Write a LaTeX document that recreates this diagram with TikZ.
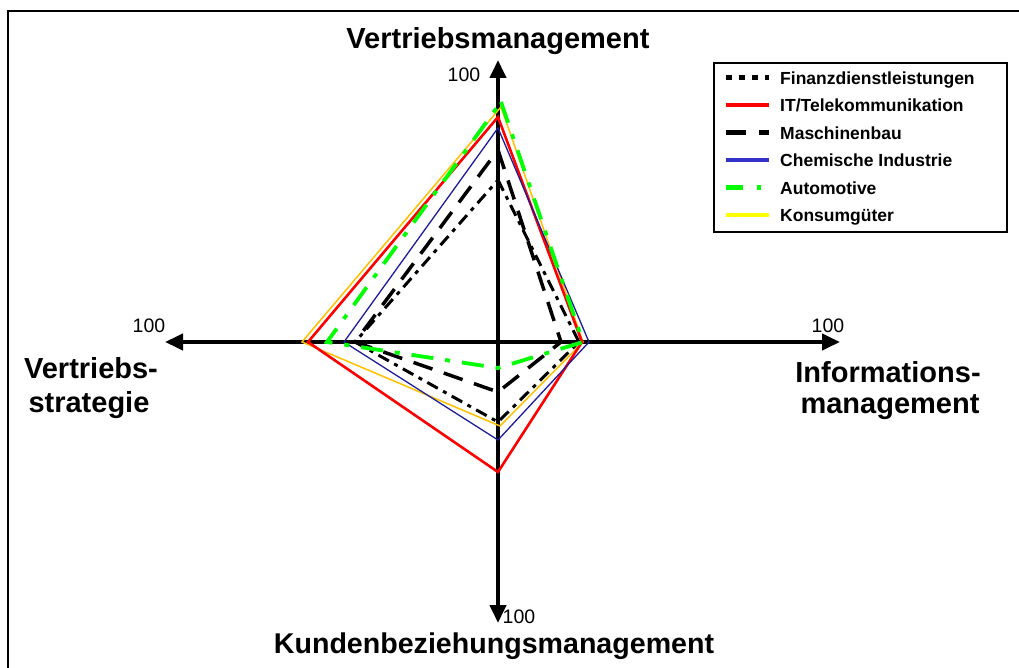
\documentclass[tikz,border=0pt]{standalone}
\usepackage{fontspec}
\setmainfont{Liberation Sans}
\usetikzlibrary{arrows.meta}

\definecolor{chemline}{HTML}{1C1C99}
\definecolor{chemkey}{HTML}{3333CC}
\definecolor{konsline}{HTML}{FFC000}
\definecolor{konskey}{HTML}{FFFF00}
\definecolor{autogreen}{HTML}{00FF00}

\begin{document}
\begin{tikzpicture}[x=1pt,y=-1pt,
  axisline/.style={line width=4pt,
    {Triangle[length=18pt,width=16pt]}-{Triangle[length=18pt,width=16pt]}},
  titletext/.style={font=\fontsize{29}{33}\selectfont\bfseries, inner sep=0pt, anchor=base},
  scaletext/.style={font=\fontsize{19.5}{22}\selectfont, inner sep=0pt, anchor=base},
  keytext/.style={font=\fontsize{17.5}{20}\selectfont\bfseries, inner sep=0pt, anchor=base west},
  finline/.style={black, line width=3pt, dash pattern=on 12pt off 6pt on 4pt off 6pt},
  finkey/.style={black, line width=4.5pt, dash pattern=on 6pt off 7pt},
  itline/.style={red, line width=2.6pt, line join=miter},
  itkey/.style={red, line width=4pt},
  mbline/.style={black, line width=3.5pt, dash pattern=on 20pt off 12pt},
  mbkey/.style={black, line width=4.5pt, dash pattern=on 20pt off 13pt},
  chemseries/.style={chemline, line width=1.3pt},
  chemkeyline/.style={chemkey, line width=4pt},
  autoline/.style={autogreen, line width=3.8pt, dash pattern=on 22pt off 12pt on 5pt off 12pt},
  autokey/.style={autogreen, line width=4.5pt, dash pattern=on 17pt off 14pt on 4pt off 14pt},
  konsseries/.style={konsline, line width=1.5pt},
  konskeyline/.style={konskey, line width=4.5pt},
]
\useasboundingbox (0,0) rectangle (1019,668);

% outer frame
\draw[line width=2pt] (8,668) -- (8,11) -- (1019,11);

% axes
\coordinate (c) at (498,342);
\coordinate (tipT) at (498,60);
\coordinate (tipB) at (498,623);
\coordinate (tipL) at (165,342);
\coordinate (tipR) at (840,342);
\draw[axisline] (tipL) -- (tipR);
\draw[axisline] (tipT) -- (tipB);

% axis titles
\node[titletext] (tTop) at (498,49) {Vertriebsmanagement};
\node[titletext] (tLeftA) at (91,378) {Vertriebs-};
\node[titletext] (tLeftB) at (89,412) {strategie};
\node[titletext] (tRightA) at (888,382) {Informations-};
\node[titletext] (tRightB) at (890,413) {management};
\node[titletext, font=\fontsize{28.6}{33}\selectfont\bfseries] (tBottom) at (494,653) {Kundenbeziehungsmanagement};

% scale labels
\node[scaletext] (sTop) at (464,82) {100};
\node[scaletext] (sLeft) at (149,332) {100};
\node[scaletext] (sRight) at (828,332) {100};
\node[scaletext] (sBottom) at (519,623) {100};

% series vertices: top, right, bottom, left
\coordinate (kT) at (501,107); \coordinate (kR) at (583,342);
\coordinate (kB) at (500,426); \coordinate (kL) at (302,342);
\coordinate (iT) at (498,117); \coordinate (iR) at (582,342);
\coordinate (iB) at (498,472); \coordinate (iL) at (308,342);
\coordinate (hT) at (498,128); \coordinate (hR) at (589,342);
\coordinate (hB) at (498,440); \coordinate (hL) at (344,342);
\coordinate (mT) at (498,150); \coordinate (mR) at (561,342);
\coordinate (mB) at (498,392); \coordinate (mL) at (355,342);
\coordinate (fT) at (498,180); \coordinate (fR) at (579,342);
\coordinate (fB) at (498,422); \coordinate (fL) at (355,342);
\coordinate (aT) at (501,102); \coordinate (aR) at (583,342);
\coordinate (aB) at (498,368); \coordinate (aL) at (327,342);

\draw[konsseries] (kT) -- (kR) -- (kB) -- (kL) -- cycle;
\draw[itline] (iT) -- (iR) -- (iB) -- (iL) -- cycle;
\draw[chemseries] (hT) -- (hR) -- (hB) -- (hL) -- cycle;
\draw[mbline] (mT) -- (mR) -- (mB) -- (mL) -- cycle;
\draw[finline] (fT) -- (fR) -- (fB) -- (fL) -- cycle;
\draw[autoline] (aT) -- (aR) -- (aB) -- (aL) -- cycle;

% legend
\draw[line width=1.2pt] (714,63) rectangle (1007,232);
\foreach \row/\sty/\lab [count=\i] in {
  77.5/finkey/Finanzdienstleistungen,
  105/itkey/IT\slash Telekommunikation,
  132.5/mbkey/Maschinenbau,
  160/chemkeyline/Chemische Industrie,
  187.5/autokey/Automotive,
  215/konskeyline/Konsumgüter} {
  \coordinate (ks\i) at (726,\row);
  \coordinate (ke\i) at (769,\row);
  \draw[\sty] (ks\i) -- (ke\i);
  \node[keytext] (kl\i) at (780,\row+7) {\lab};
}
\end{tikzpicture}
\end{document}
